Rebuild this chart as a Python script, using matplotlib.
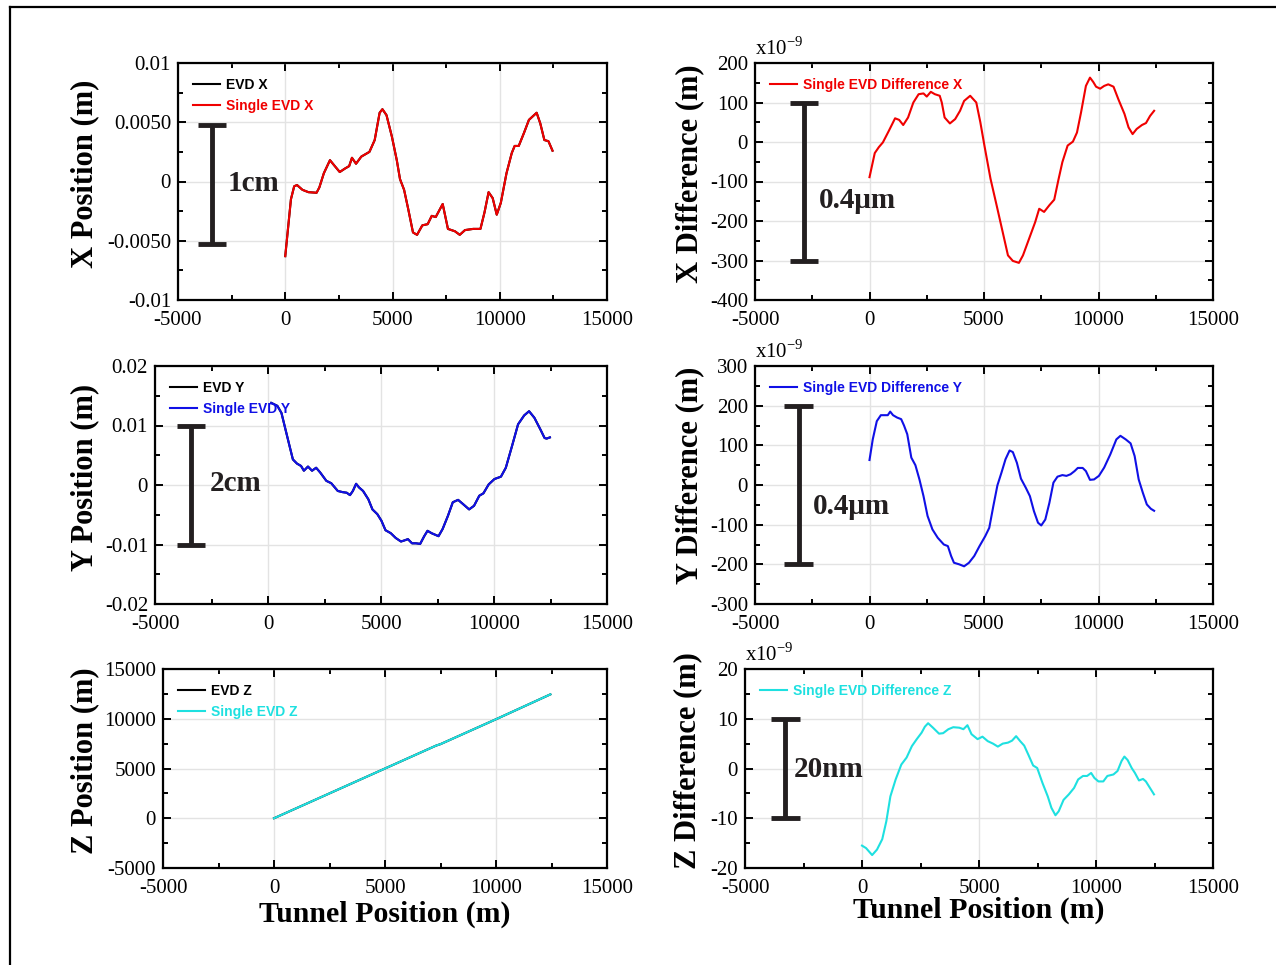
import numpy as np
import matplotlib
matplotlib.use("Agg")
import matplotlib.pyplot as plt
from matplotlib.ticker import AutoMinorLocator
from matplotlib.lines import Line2D

plt.rcParams['font.family'] = ['Liberation Serif', 'DejaVu Serif']
plt.rcParams['mathtext.fontset'] = 'custom'
plt.rcParams['mathtext.rm'] = 'Liberation Serif'
plt.rcParams['axes.unicode_minus'] = False

# ---- data (tunnel position in m) ----
# X position (m)
x_pos_t = [0, 265, 417, 550, 800, 1080, 1460, 1590, 1800, 2085, 2310, 2540, 2790, 2980, 3110, 3300,
           3545, 3925, 4170, 4400, 4530, 4720, 4970, 5200, 5350, 5540, 5730, 5955, 6145, 6390, 6640,
           6830, 7015, 7340, 7585, 7910, 8135, 8380, 8760, 9100, 9290, 9480, 9670, 9860, 10050,
           10315, 10560, 10695, 10885, 11130, 11360, 11720, 11890, 12080, 12270, 12460]
x_pos = [-0.0063, -0.0015, -0.0004, -0.0003, -0.0007, -0.0009, -0.00095, -0.0005, 0.0007, 0.0018,
         0.0013, 0.0008, 0.0011, 0.0013, 0.0020, 0.0015, 0.0021, 0.0025, 0.0035, 0.0058, 0.0061,
         0.0056, 0.0038, 0.0018, 0.0002, -0.0007, -0.0023, -0.0043, -0.0045, -0.0037, -0.0036,
         -0.0029, -0.0030, -0.0019, -0.0040, -0.0042, -0.0045, -0.0041, -0.0040, -0.0040, -0.0026,
         -0.0009, -0.0014, -0.0028, -0.0018, 0.0007, 0.0024, 0.0030, 0.0030, 0.0041, 0.0052, 0.0058,
         0.0049, 0.0035, 0.0034, 0.0026]

# X difference (x1e-9 m)
x_diff_t = [0, 230, 408, 585, 851, 1117, 1294, 1472, 1684, 1915, 2145, 2358, 2500, 2677, 2855, 3067,
            3156, 3280, 3511, 3741, 3954, 4131, 4397, 4663, 4840, 5018, 5284, 5550, 5816, 6046, 6259,
            6525, 6702, 6968, 7234, 7411, 7624, 7855, 8067, 8245, 8422, 8652, 8883, 9060, 9238, 9450,
            9628, 9770, 9894, 10071, 10248, 10426, 10656, 10869, 11135, 11312, 11489, 11667, 11897,
            12074, 12252, 12429]
x_diff = [-89, -28, -13, -1, 29, 60, 56, 43, 62, 100, 121, 123, 115, 127, 121, 117, 100, 62, 47, 58,
          79, 104, 117, 100, 50, -9, -93, -160, -228, -287, -301, -306, -287, -245, -203, -169, -177,
          -160, -146, -97, -51, -9, 1, 24, 75, 142, 163, 152, 140, 135, 142, 146, 140, 108, 71, 37,
          20, 33, 43, 48, 66, 79]

# Y position (m)
y_pos_t = [144, 415, 596, 776, 957, 1101, 1282, 1462, 1588, 1769, 1949, 2130, 2310, 2581, 2798, 3087,
           3303, 3484, 3628, 3755, 3899, 4025, 4206, 4440, 4621, 4838, 5018, 5199, 5433, 5650, 5884,
           6047, 6191, 6372, 6552, 6733, 6913, 7058, 7238, 7545, 7726, 7960, 8177, 8412, 8628, 8899,
           9116, 9350, 9531, 9765, 10018, 10307, 10523, 10794, 11065, 11336, 11552, 11787, 12058,
           12238, 12329, 12473]
y_pos = [0.0138, 0.0133, 0.0121, 0.0093, 0.0065, 0.0043, 0.0036, 0.0032, 0.0024, 0.0031, 0.0024,
         0.0029, 0.0021, 0.0007, 0.0003, -0.0010, -0.0012, -0.0013, -0.0017, -0.0010, 0.0002,
         -0.0004, -0.0010, -0.0024, -0.0041, -0.0049, -0.0060, -0.0076, -0.0081, -0.0089, -0.0095,
         -0.0093, -0.0091, -0.0098, -0.0098, -0.0099, -0.0086, -0.0077, -0.0081, -0.0086, -0.0074,
         -0.0052, -0.0029, -0.0025, -0.0032, -0.0041, -0.0035, -0.0018, -0.0014, 0.0001, 0.0010,
         0.0014, 0.0029, 0.0065, 0.0102, 0.0117, 0.0124, 0.0113, 0.0093, 0.0079, 0.0078, 0.0080]

# Y difference (x1e-9 m)
y_diff_t = [0, 142, 319, 496, 674, 798, 904, 1028, 1206, 1383, 1507, 1649, 1826, 2004, 2181, 2358,
            2535, 2748, 2979, 3245, 3422, 3564, 3688, 3918, 4131, 4344, 4574, 4805, 5053, 5230, 5408,
            5585, 5762, 5940, 6117, 6259, 6436, 6613, 6826, 7004, 7181, 7358, 7500, 7677, 7855, 8032,
            8209, 8422, 8599, 8777, 8954, 9096, 9309, 9450, 9628, 9805, 10018, 10248, 10514, 10780,
            10957, 11188, 11401, 11578, 11755, 11933, 12110, 12287, 12429]
y_diff = [63, 115, 161, 176, 176, 176, 185, 176, 170, 166, 150, 128, 69, 50, 14, -28, -78, -112,
          -133, -150, -154, -179, -196, -200, -205, -196, -179, -154, -129, -108, -53, -1, 31, 65,
          87, 83, 56, 16, -7, -28, -66, -95, -102, -87, -45, 6, 21, 25, 23, 27, 35, 43, 43, 35, 13,
          14, 23, 44, 77, 115, 124, 115, 105, 73, 14, -19, -49, -60, -65]

# Z position (m)
z_pos_t = [0, 2500, 5000, 7300, 7500, 10000, 12450]
z_pos = [0, 2500, 5000, 7300, 7450, 9950, 12450]

# Z difference (x1e-9 m)
z_diff_t = [0, 173, 433, 641, 866, 1040, 1213, 1438, 1681, 1906, 2132, 2340, 2548, 2686, 2825, 3033,
            3293, 3466, 3692, 3900, 4159, 4333, 4506, 4679, 4939, 5147, 5373, 5598, 5806, 6014, 6239,
            6412, 6586, 6759, 6932, 7106, 7314, 7487, 7712, 7938, 8094, 8267, 8406, 8614, 8839, 9064,
            9237, 9445, 9619, 9792, 9931, 10104, 10312, 10485, 10745, 10919, 11092, 11213, 11352,
            11525, 11664, 11837, 12010, 12132, 12305, 12478]
z_diff = [-15.5, -16.0, -17.4, -16.3, -14.2, -10.6, -5.6, -2.2, 0.8, 2.2, 4.5, 5.9, 7.2, 8.4, 9.1,
          8.2, 7.0, 7.1, 7.9, 8.3, 8.2, 7.9, 8.7, 6.9, 5.9, 6.4, 5.5, 5.0, 4.4, 5.0, 5.2, 5.6, 6.5,
          5.5, 4.6, 2.8, 0.6, 0.1, -2.9, -5.6, -7.9, -9.4, -8.6, -6.3, -5.2, -3.9, -2.2, -1.5, -1.5,
          -0.9, -1.9, -2.6, -2.6, -1.5, -1.2, -0.5, 1.5, 2.4, 1.7, 0.1, -0.9, -2.4, -2.1, -2.6, -3.9,
          -5.2]

x_ticks = [-5000, 0, 5000, 10000, 15000]
x_ticklabels = ['-5000', '0', '5000', '10000', '15000']
xpos_ticks = [-0.01, -0.005, 0, 0.005, 0.01]
xpos_ticklabels = ['-0.01', '-0.0050', '0', '0.0050', '0.01']
xdiff_ticks = [-400, -300, -200, -100, 0, 100, 200]
ypos_ticks = [-0.02, -0.01, 0, 0.01, 0.02]
ypos_ticklabels = ['-0.02', '-0.01', '0', '0.01', '0.02']
ydiff_ticks = [-300, -200, -100, 0, 100, 200, 300]
zpos_ticks = [-5000, 0, 5000, 10000, 15000]
zdiff_ticks = [-20, -10, 0, 10, 20]

W, H = 1276, 965
fig = plt.figure(figsize=(W / 100, H / 100), dpi=100)

# outer border
fig.add_artist(Line2D([10 / W, 1], [1 - 7 / H, 1 - 7 / H], color='black', lw=1.6, transform=fig.transFigure))
fig.add_artist(Line2D([10 / W, 10 / W], [0, 1 - 7 / H], color='black', lw=1.6, transform=fig.transFigure))


def make_ax(l, r, t, b):
    return fig.add_axes([l / W, 1 - b / H, (r - l) / W, (b - t) / H])


def style(ax, yticks, ylabels):
    ax.set_xlim(-5000, 15000)
    ax.set_ylim(yticks[0], yticks[-1])
    ax.set_xticks(x_ticks)
    ax.set_xticklabels(x_ticklabels)
    ax.set_yticks(yticks)
    ax.set_yticklabels(ylabels)
    ax.xaxis.set_minor_locator(AutoMinorLocator(2))
    ax.yaxis.set_minor_locator(AutoMinorLocator(2))
    ax.tick_params(which='both', direction='in', top=True, right=True, width=1.4, labelsize=15)
    ax.tick_params(axis='x', pad=8)
    ax.tick_params(axis='y', pad=5)
    ax.tick_params(which='major', length=6)
    ax.tick_params(which='minor', length=3.5)
    ax.grid(True, which='major', color='#e3e3e3', lw=1.0)
    ax.set_axisbelow(True)
    for s in ax.spines.values():
        s.set_linewidth(1.6)


def scale_bar(ax, x, y0, y1, half, text, tx, ty):
    c = '#231f20'
    ax.plot([x, x], [y0, y1], color=c, lw=3.5, solid_capstyle='butt')
    ax.plot([x - half, x + half], [y0, y0], color=c, lw=3.5, solid_capstyle='butt')
    ax.plot([x - half, x + half], [y1, y1], color=c, lw=3.5, solid_capstyle='butt')
    ax.text(tx, ty, text, fontsize=21, fontweight='bold', ha='left', va='center', color=c)


def legend(ax):
    ax.legend(loc='upper left', frameon=False, prop={'family': 'Liberation Sans', 'weight': 'bold', 'size': 10},
              handlelength=1.9, handletextpad=0.45, labelspacing=0.45, borderaxespad=0.7,
              labelcolor='linecolor')


def ylab(x, y, s):
    fig.text(x / W, 1 - y / H, s, rotation=90, ha='center', va='center', fontsize=22, fontweight='bold')


def scale_note(ax):
    ax.text(0.0, 1.015, 'x10$^{\\mathregular{-9}}$', transform=ax.transAxes, fontsize=15,
            ha='left', va='bottom')


red, blue, cyan = '#f00000', '#1010e6', '#1ee0e0'
lw = 1.5

# X position
ax1 = make_ax(178, 607, 63, 300)
ax1.plot(x_pos_t, x_pos, color='black', lw=lw, label='EVD X')
ax1.plot(x_pos_t, x_pos, color=red, lw=lw, label='Single EVD X')
style(ax1, xpos_ticks, xpos_ticklabels)
legend(ax1)
scale_bar(ax1, -3400, 0.00475, -0.0053, 650, '1cm', -2700, -0.0002)
ylab(85, 174, 'X Position (m)')

# X difference
ax2 = make_ax(755, 1213, 63, 300)
ax2.plot(x_diff_t, x_diff, color=red, lw=lw, label='Single EVD Difference X')
style(ax2, xdiff_ticks, [str(v) for v in xdiff_ticks])
legend(ax2)
scale_bar(ax2, -2870, 100, -300, 620, '0.4\u03bcm', -2230, -148)
scale_note(ax2)
ylab(690, 174, 'X Difference (m)')

# Y position
ax3 = make_ax(155, 607, 366, 604)
ax3.plot(y_pos_t, y_pos, color='black', lw=lw, label='EVD Y')
ax3.plot(y_pos_t, y_pos, color=blue, lw=lw, label='Single EVD Y')
style(ax3, ypos_ticks, ypos_ticklabels)
legend(ax3)
scale_bar(ax3, -3410, 0.01, -0.01, 620, '2cm', -2560, 0.0003)
ylab(85, 477, 'Y Position (m)')

# Y difference
ax4 = make_ax(755, 1213, 366, 604)
ax4.plot(y_diff_t, y_diff, color=blue, lw=lw, label='Single EVD Difference Y')
style(ax4, ydiff_ticks, [str(v) for v in ydiff_ticks])
legend(ax4)
scale_bar(ax4, -3100, 200, -200, 620, '0.4\u03bcm', -2470, -53)
scale_note(ax4)
ylab(690, 475, 'Y Difference (m)')

# Z position
ax5 = make_ax(163, 607, 669, 868)
ax5.plot(z_pos_t, z_pos, color='black', lw=lw, label='EVD Z')
ax5.plot(z_pos_t, z_pos, color=cyan, lw=lw, label='Single EVD Z')
style(ax5, zpos_ticks, [str(v) for v in zpos_ticks])
legend(ax5)
ylab(85, 761, 'Z Position (m)')
ax5.set_xlabel('Tunnel Position (m)', fontsize=21.5, fontweight='bold', labelpad=2)

# Z difference
ax6 = make_ax(745, 1213, 669, 868)
ax6.plot(z_diff_t, z_diff, color=cyan, lw=lw, label='Single EVD Difference Z')
style(ax6, zdiff_ticks, [str(v) for v in zdiff_ticks])
legend(ax6)
scale_bar(ax6, -3290, 10, -10, 620, '20nm', -2900, -0.2)
scale_note(ax6)
ylab(688, 761, 'Z Difference (m)')
ax6.set_xlabel('Tunnel Position (m)', fontsize=21.5, fontweight='bold', labelpad=-1)

fig.savefig('out.png', dpi=100)
